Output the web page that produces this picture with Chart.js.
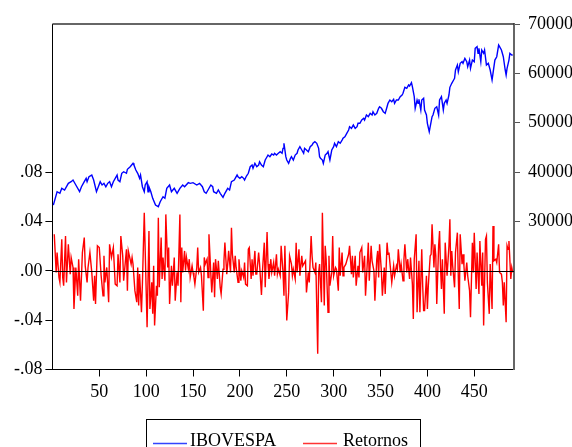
<!DOCTYPE html>
<html><head><meta charset="utf-8">
<script src="https://cdn.jsdelivr.net/npm/chart.js@4.4.1/dist/chart.umd.min.js"></script>
<style>html,body{margin:0;padding:0;background:#fff}canvas{display:block}</style>
</head><body>
<canvas id="c" width="572" height="447"></canvas>
<script>
const xTicks = [50,100,150,200,250,300,350,400,450];
const leftTicks = [-0.08,-0.04,0,0.04,0.08];
const rightTicks = [30000,40000,50000,60000,70000];
const seriesNames = ['IBOVESPA','Retornos'];

const iboObs = [1,5,8,10,13,17,20,22,25,29,31,34,36,37,39,42,44,47,49,51,53,55,57,59,61,63,65,69,70,72,74,76,79,80,83,86,87,89,91,93,94,96,98,99,101,102,103,105,107,110,113,115,118,120,122,125,127,130,133,136,139,141,145,
147,150,154,157,160,162,164,166,169,171,172,175,177,179,182,184,187,189,191,194,197,198,200,202,204,205,207,209,211,213,214,216,218,220,221,223,225,227,229,230,232,234,236,237,239,241,243,245,246,247,249,250,252,254,255,257,259,261,262,264,266,268,269,271,273,275,277,278,280,282,284,285,286,288,289,291,293,294,296,298,300,301,303,305,307,309,310,312,314,316,317,319,321,323,325,326,328,330,332,333,335,337,339,341,342,344,346,348,
349,351,353,355,357,358,360,362,364,365,367,369,371,373,374,376,378,380,381,383,384,386,387,389,390,391,393,394,396,397,399,400,402,403,405,406,408,410,412,413,415,417,418,420,421,423,424,426,428,429,430,432,433,435,437,438,440,442,443,445,446,448,450,451,453,454,455,457,458,460,461,463,465,467,469,470,472,474,476,477,479,481,483,484,485,487,488,490,491];
const ibovespa = [33300,36020,35700,36710,36370,37720,38050,38390,37380,36020,37030,38050,38730,38050,39060,39400,38390,36020,37030,38050,37380,37720,37030,37720,38050,37030,38050,39400,38390,38050,39750,40070,39750,40560,41090,41770,41430,40420,39750,38730,39400,37030,36020,37380,38050,36020,37030,36020,34680,33330,32990,34000,35010,34700,36710,37380,36020,36710,35700,36710,37380,37030,37850,
37720,37850,37380,37720,37030,36020,35700,36370,37380,37030,36020,35700,36370,35700,34890,35700,36710,36370,38050,38390,39400,39060,38730,39060,38730,38390,39200,39750,41090,41430,40760,41770,41090,41430,42100,41430,41090,42440,43110,43450,43110,43660,43450,43800,43450,43800,44120,43800,44810,45830,43110,42440,41770,42790,43110,42440,43450,43800,44470,45140,44470,43800,44810,44470,44120,45140,45480,45830,46150,45830,44810,43110,42790,42440,41770,43450,43800,44120,42440,44470,45140,45830,45140,46150,45830,46490,46840,47160,47850,48520,49190,48860,49530,48860,49190,49880,49880,50550,50890,50550,51560,51220,51900,51560,52230,51560,51900,52920,
53240,52920,52230,51900,53240,53930,54600,54250,54740,53930,54600,54600,55270,55610,55960,57170,56970,57640,57440,58110,57300,55270,52920,54600,53930,54740,52570,54600,54940,52570,51560,49880,48180,49190,51220,51560,52920,53240,51560,54600,55270,52570,53930,54600,53930,55610,57170,57980,58650,58990,60680,61690,60330,62030,62360,62030,63040,62360,61350,62700,61010,62700,62360,65070,65400,64060,65070,62360,64730,64060,64730,61690,62030,60680,58650,60000,62700,63370,65740,65400,64730,63370,60680,59660,61010,62700,64060,63710,63710];

const retObs = [2,4,5,7,8,10,11,12,14,15,17,19,20,22,23,25,27,28,30,32,34,35,37,38,40,42,44,45,46,48,50,52,54,55,56,58,60,61,63,65,67,69,70,72,73,75,76,79,80,81,84,85,86,88,90,91,92,93,95,96,98,
101,103,104,106,107,108,109,111,112,113,114,116,117,118,120,121,123,124,125,127,128,129,130,131,133,134,136,137,138,139,141,142,143,145,146,147,149,150,151,152,154,155,156,158,159,161,162,163,165,166,167,169,170,172,173,174,176,177,179,180,182,183,184,186,187,188,190,191,192,194,195,196,198,
199,201,202,204,205,206,208,209,210,212,213,214,216,217,218,220,221,223,224,226,227,229,230,231,233,234,236,237,239,240,241,243,244,246,247,248,249,250,252,253,255,256,257,259,260,261,263,264,266,267,268,270,271,273,274,276,277,278,280,281,283,284,285,287,288,290,291,292,294,295,296,298,
299,300,302,303,305,306,307,309,310,311,313,314,316,317,319,320,321,323,324,326,327,328,330,331,333,334,335,337,338,340,341,343,344,346,347,348,349,351,352,354,355,357,358,359,361,362,364,365,367,368,369,371,372,374,375,376,378,379,381,382,384,385,386,388,389,391,392,394,395,396,
397,399,400,401,403,404,405,407,408,409,410,412,413,414,415,416,418,419,420,421,423,424,425,426,427,429,430,432,433,434,435,437,438,439,440,442,443,445,446,448,449,450,452,453,455,456,458,459,460,462,463,464,466,467,469,470,471,473,474,476,477,479,480,481,482,484,485,486,487,489,490,491];
const retornos = [.0296,-.0013,.0148,-.0054,-.0094,.0255,-.0054,-.0121,.0282,-.0094,.0215,-.0027,.0108,.0027,-.0309,.0027,-.0202,.0094,-.0242,.0148,.0269,.0040,-.0094,.0027,.0148,-.0013,-.0242,-.0040,-.0269,.0202,.0188,-.0040,-.0202,.0121,-.0094,.0027,-.0255,.0215,.0108,.0188,-.0108,-.0121,.0134,-.0094,.0282,.0121,-.0081,.0175,-.0161,.0161,.0054,.0108,.0054,-.0161,-.0255,.0027,-.0282,-.0027,-.0336,-.0108,.0470,
-.0457,.0323,-.0309,-.0094,-.0349,.0040,-.0444,-.0121,-.0202,.0430,-.0134,.0269,-.0067,.0108,-.0081,.0457,.0027,.0188,-.0269,.0040,-.0121,-.0013,.0108,-.0242,-.0013,-.0121,.0457,-.0255,.0188,-.0013,.0161,0,.0108,.0013,.0094,-.0054,.0040,-.0013,-.0054,-.0108,.0027,.0188,-.0013,.0027,-.0040,-.0323,.0108,.0054,.0094,-.0054,.0296,-.0027,-.0175,.0067,-.0215,.0094,-.0067,.0081,-.0134,-.0188,.0013,.0081,.0228,-.0027,.0054,.0161,-.0013,.0349,.0134,-.0013,.0121,.0027,-.0094,
.0094,-.0081,0,-.0054,.0067,-.0108,-.0121,.0175,.0188,-.0067,.0094,-.0040,.0161,-.0027,-.0027,.0148,.0054,-.0196,-.0013,.0228,-.0134,.0315,.0054,-.0067,.0094,-.0013,.0067,-.0040,.0134,-.0027,.0013,-.0040,.0202,-.0013,-.0202,.0202,-.0108,-.0403,-.0175,.0121,.0054,-.0040,.0013,-.0067,.0228,-.0013,.0175,-.0040,.0121,.0040,.0054,.0081,-.0175,-.0013,-.0094,.0282,.0121,.0027,-.0013,.0067,-.0672,-.0013,.0054,-.0255,.0470,-.0282,.0202,.0094,-.0336,.0121,-.0121,-.0013,
.0282,-.0040,.0027,.0013,-.0161,.0188,-.0040,.0148,-.0040,.0027,.0054,.0081,.0134,.0202,-.0027,.0121,-.0054,.0121,-.0121,.0040,-.0054,.0148,.0188,-.0013,.0121,-.0202,-.0067,.0228,-.0081,.0202,.0081,0,-.0242,.0094,.0161,-.0054,.0215,-.0013,-.0202,.0027,-.0188,.0228,.0134,.0148,-.0013,-.0094,.0040,-.0040,.0040,.0013,.0175,-.0013,.0054,-.0081,.0094,.0215,-.0013,.0094,-.0067,.0108,-.0108,-.0390,.0094,.0296,-.0336,.0081,-.0336,.0175,-.0121,-.0323,
-.0323,-.0040,-.0309,-.0121,.0121,.0134,.0376,.0027,.0215,.0121,-.0269,.0202,.0323,.0027,-.0148,.0094,-.0349,.0228,.0094,-.0040,.0202,.0417,-.0040,.0161,.0040,-.0134,.0148,.0309,-.0054,-.0309,.0296,.0054,.0134,.0040,-.0081,.0067,-.0040,-.0161,-.0376,.0228,-.0013,.0309,-.0148,.0148,-.0188,.0242,-.0121,.0148,-.0444,.0255,.0282,-.0094,-.0349,.0054,-.0309,.0363,.0081,.0094,.0067,.0215,-.0013,-.0027,-.0094,-.0282,-.0094,-.0417,.0202,.0175,.0242,-.0067,.0027,-.0013];

const FONT = {family: '"Liberation Serif", "Times New Roman", serif', size: 18};
const pts = (xs, ys) => ys.slice(0, Math.min(xs.length, ys.length)).map((v, i) => ({x: xs[i], y: v}));
const fmtLeft = v => (v < 0 ? '-' : '') + Math.abs(v).toFixed(2).replace(/^0/, '');

const framePlugin = {
  id: 'frame',
  afterDatasetsDraw(chart) {
    const {ctx, chartArea: a, scales} = chart;
    ctx.save();
    const y0 = Math.round(scales.yL.getPixelForValue(0)) + 0.5;
    ctx.strokeStyle = '#000'; ctx.lineWidth = 1;
    ctx.beginPath(); ctx.moveTo(a.left, y0); ctx.lineTo(a.right, y0); ctx.stroke();
    ctx.strokeStyle = '#333'; ctx.lineWidth = 1.5;
    ctx.beginPath(); ctx.moveTo(a.left, a.top); ctx.lineTo(a.right, a.top); ctx.stroke();
    ctx.restore();
  },
  afterDraw(chart) {
    const {ctx} = chart;
    ctx.save();
    ctx.strokeStyle = '#000'; ctx.lineWidth = 1;
    ctx.strokeRect(146.5, 419.5, 274, 40);
    ctx.font = '18px ' + FONT.family;
    ctx.textBaseline = 'alphabetic';
    const items = [
      {c: '#3344ff', x0: 153, x1: 187, tx: 190, t: seriesNames[0]},
      {c: '#ff3333', x0: 303, x1: 337, tx: 343, t: seriesNames[1]}
    ];
    for (const it of items) {
      ctx.beginPath();
      ctx.strokeStyle = it.c; ctx.lineWidth = 1.3;
      ctx.moveTo(it.x0, 443.5); ctx.lineTo(it.x1, 443.5); ctx.stroke();
      ctx.fillStyle = '#000';
      ctx.fillText(it.t, it.tx, 446);
    }
    ctx.restore();
  }
};

new Chart(document.getElementById('c'), {
  type: 'line',
  data: {
    datasets: [
      {label: seriesNames[0], data: pts(iboObs, ibovespa), yAxisID: 'yR', borderColor: '#0000ff', borderWidth: 1.4, pointRadius: 0, tension: 0, fill: false},
      {label: seriesNames[1], data: pts(retObs, retornos), yAxisID: 'yL', borderColor: '#ff0000', borderWidth: 1.4, pointRadius: 0, tension: 0, fill: false}
    ]
  },
  options: {
    responsive: false, animation: false, devicePixelRatio: 1,
    layout: {padding: {top: 24, left: 0, right: 0, bottom: 0}},
    plugins: {legend: {display: false}, tooltip: {enabled: false}},
    scales: {
      x: {
        type: 'linear', position: 'bottom', min: 0, max: 492.4,
        afterBuildTicks: s => { s.ticks = xTicks.map(v => ({value: v})); },
        afterFit: s => { s.height = 77.5; },
        grid: {drawOnChartArea: false, drawTicks: true, tickLength: 7, color: '#000'},
        border: {display: true, color: '#000', width: 1},
        ticks: {font: FONT, color: '#000', padding: 5, maxRotation: 0, autoSkip: false}
      },
      yL: {
        type: 'linear', position: 'left', min: -0.08, max: 0.2,
        afterBuildTicks: s => { s.ticks = leftTicks.map(v => ({value: v})); },
        afterFit: s => { s.width = 52.4; },
        grid: {drawOnChartArea: false, drawTicks: true, tickLength: 7, color: '#000'},
        border: {display: true, color: '#000', width: 1},
        ticks: {font: FONT, color: '#000', padding: 3, callback: v => fmtLeft(v)}
      },
      yR: {
        type: 'linear', position: 'right', min: 0, max: 70000,
        afterBuildTicks: s => { s.ticks = rightTicks.map(v => ({value: v})); },
        afterFit: s => { s.width = 58; },
        grid: {drawOnChartArea: false, drawTicks: true, tickLength: 6, color: '#555'},
        border: {display: true, color: '#666', width: 2},
        ticks: {font: FONT, color: '#000', padding: 8, callback: v => String(v)}
      }
    }
  },
  plugins: [framePlugin]
});
</script>
</body></html>
